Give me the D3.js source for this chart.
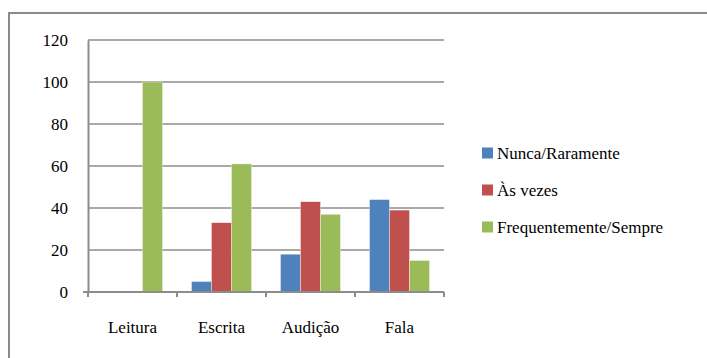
<!DOCTYPE html>
<html>
<head>
<meta charset="utf-8">
<script src="https://cdnjs.cloudflare.com/ajax/libs/d3/7.8.5/d3.min.js"></script>
<style>
  html, body { margin: 0; padding: 0; background: #fff; }
  svg { display: block; }
</style>
</head>
<body>
<svg id="chart" width="707" height="358" style="font-family: 'Liberation Serif', Tinos, 'Times New Roman', serif;"></svg>
<script>
// Skills and response frequency (%)
const categories = ["Leitura", "Escrita", "Audição", "Fala"];
const seriesNames = ["Nunca/Raramente", "Às vezes", "Frequentemente/Sempre"];
const nunca = [0, 5, 18, 44];
const asVezes = [0, 33, 43, 39];
const frequentemente = [100, 61, 37, 15];
const yTicks = [0, 20, 40, 60, 80, 100, 120];
const colors = ["#4F81BD", "#C0504D", "#9BBB59"];

const seriesValues = [nunca, asVezes, frequentemente];
const FONT = "'Liberation Serif', Tinos, 'Times New Roman', serif";
const FONT_SIZE = "17px";

const svg = d3.select("#chart");

// outer frame (top and left edges visible)
svg.append("path")
  .attr("d", "M9,358 L9,13 L707,13")
  .attr("fill", "none")
  .attr("stroke", "#8a8a8a")
  .attr("stroke-width", 2);

const plot = { left: 88, right: 444, top: 40, bottom: 292 };

const x = d3.scaleBand()
  .domain(categories)
  .range([plot.left, plot.right]);

const x1 = d3.scaleBand()
  .domain(d3.range(seriesNames.length))
  .range([0, 60]);

const y = d3.scaleLinear()
  .domain([0, 120])
  .range([plot.bottom, plot.top]);

// gridlines
svg.append("g")
  .selectAll("line")
  .data(yTicks.filter(t => t > 0))
  .join("line")
  .attr("x1", plot.left)
  .attr("x2", plot.right)
  .attr("y1", d => y(d))
  .attr("y2", d => y(d))
  .attr("stroke", "#8c8c8c")
  .attr("stroke-width", 1.5);

// y axis
const yAxis = svg.append("g")
  .attr("transform", `translate(${plot.left},0)`)
  .call(d3.axisLeft(y).tickValues(yTicks).tickSize(0).tickPadding(20));
yAxis.attr("font-family", null).attr("font-size", null);
yAxis.select(".domain").attr("stroke", "#8c8c8c").attr("stroke-width", 2);
yAxis.selectAll("text")
  .style("font-family", FONT)
  .style("font-size", FONT_SIZE)
  .attr("fill", "#000");
// small tick at zero
yAxis.append("line")
  .attr("x1", -5).attr("x2", 0)
  .attr("y1", y(0)).attr("y2", y(0))
  .attr("stroke", "#8c8c8c").attr("stroke-width", 2);

// bars
const groups = svg.append("g")
  .selectAll("g")
  .data(categories)
  .join("g")
  .attr("transform", d => `translate(${x(d) + (x.bandwidth() - 60) / 2},0)`);

groups.selectAll("rect")
  .data((d, i) => seriesValues.map((vals, s) => ({ s, v: vals[i] })))
  .join("rect")
  .filter(d => d.v > 0)
  .attr("x", d => x1(d.s))
  .attr("width", x1.bandwidth())
  .attr("y", d => y(d.v))
  .attr("height", d => y(0) - y(d.v))
  .attr("fill", d => colors[d.s])
  .attr("stroke", "#ffffff")
  .attr("stroke-opacity", 0.6)
  .attr("stroke-width", 0.6);

// x axis
const xAxisLine = svg.append("g");
xAxisLine.append("line")
  .attr("x1", plot.left - 5).attr("x2", plot.right)
  .attr("y1", y(0)).attr("y2", y(0))
  .attr("stroke", "#8c8c8c").attr("stroke-width", 2);
const boundaries = categories.map(c => x(c)).concat([plot.right]);
xAxisLine.selectAll("line.tick")
  .data(boundaries)
  .join("line")
  .attr("class", "tick")
  .attr("x1", d => d).attr("x2", d => d)
  .attr("y1", y(0)).attr("y2", y(0) + 5)
  .attr("stroke", "#8c8c8c").attr("stroke-width", 2);

svg.append("g")
  .selectAll("text")
  .data(categories)
  .join("text")
  .attr("x", d => x(d) + x.bandwidth() / 2)
  .attr("y", 333)
  .attr("text-anchor", "middle")
  .style("font-family", FONT)
  .style("font-size", FONT_SIZE)
  .text(d => d);

// legend
const legend = svg.append("g")
  .selectAll("g")
  .data(seriesNames)
  .join("g")
  .attr("transform", (d, i) => `translate(482,${153 + i * 37})`);
legend.append("rect")
  .attr("x", 0).attr("y", -5.5)
  .attr("width", 11).attr("height", 11)
  .attr("fill", (d, i) => colors[i]);
legend.append("text")
  .attr("x", 15)
  .attr("y", 0)
  .attr("dy", "0.35em")
  .style("font-family", FONT)
  .style("font-size", FONT_SIZE)
  .text(d => d);
</script>
</body>
</html>
